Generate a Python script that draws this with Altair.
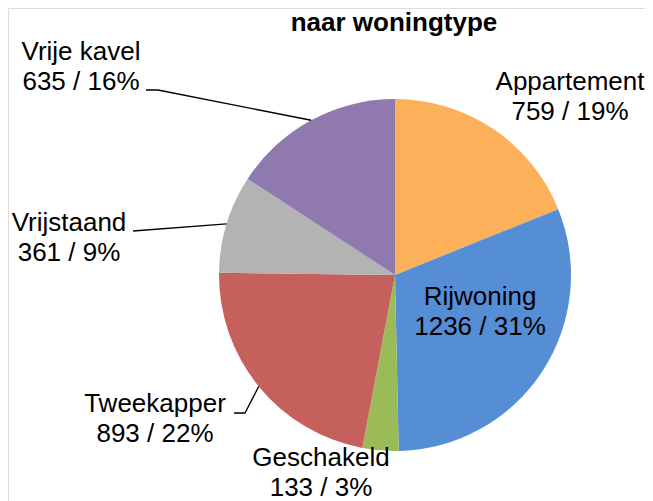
import math
import altair as alt
import pandas as pd

# ---- data ----
categories = ["Appartement", "Rijwoning", "Geschakeld", "Tweekapper", "Vrijstaand", "Vrije kavel"]
counts = [759, 1236, 133, 893, 361, 635]
colors = ["#FDB05A", "#558ED5", "#9BBB59", "#C5605C", "#B3B3B3", "#8F79AF"]
title_text = "naar woningtype"

# ---- layout (page pixel coordinates) ----
W, H = 637, 493
OX, OY = 8, 8
CX, CY, R = 395, 275, 176
# (x centre, y of first line)
label_anchor = {
    "Appartement": (570, 82),
    "Rijwoning": (480, 297),
    "Geschakeld": (321, 458),
    "Tweekapper": (155, 404),
    "Vrijstaand": (69, 223),
    "Vrije kavel": (81, 52),
}
leader_start = {
    "Vrije kavel": [(146, 90), (158, 90)],
    "Vrijstaand": [(133, 231)],
    "Tweekapper": [(234, 413), (245, 413)],
}
FONT = "Liberation Sans"

total = sum(counts)
pcts = [round(100 * c / total) for c in counts]

df = pd.DataFrame({
    "cat": categories,
    "value": counts,
    "idx": list(range(len(categories))),
})

lab_rows = []
for c, v, p in zip(categories, counts, pcts):
    x, y = label_anchor[c]
    lab_rows.append({"cat": c, "txt": f"{c}\n{v} / {p}%", "x": x, "y": y})
labels = pd.DataFrame(lab_rows)

cum = 0
mid = {}
for c, v in zip(categories, counts):
    mid[c] = (cum + v / 2) / total * 2 * math.pi
    cum += v
line_rows = []
for c, pts in leader_start.items():
    a = mid[c]
    edge = (CX + R * math.sin(a), CY - R * math.cos(a))
    for k, (x, y) in enumerate(pts + [edge]):
        line_rows.append({"cat": c, "o": k, "x": x, "y": y})
lines = pd.DataFrame(line_rows)

xs = alt.Scale(domain=[OX, OX + W], range=[0, W])
ys = alt.Scale(domain=[OY, OY + H], range=[0, H])

pie = alt.Chart(df).mark_arc(outerRadius=R).encode(
    theta=alt.Theta("value:Q", stack=True),
    order=alt.Order("idx:Q"),
    color=alt.Color("cat:N", scale=alt.Scale(domain=categories, range=colors), legend=None),
    x=alt.value(CX - OX),
    y=alt.value(CY - OY),
)

leaders = alt.Chart(lines).mark_line(color="#000000", strokeWidth=1.3).encode(
    x=alt.X("x:Q", scale=xs, axis=None),
    y=alt.Y("y:Q", scale=ys, axis=None),
    detail="cat:N",
    order="o:Q",
)

text = alt.Chart(labels).mark_text(
    font=FONT, fontSize=26, lineBreak="\n", lineHeight=29.5,
    align="center", baseline="middle", color="#000000",
).encode(
    x=alt.X("x:Q", scale=xs, axis=None),
    y=alt.Y("y:Q", scale=ys, axis=None),
    text="txt:N",
)

title = alt.Chart(pd.DataFrame({"t": [title_text]})).mark_text(
    font=FONT, fontSize=26, fontWeight="bold", align="center", baseline="middle", color="#000000",
).encode(
    x=alt.value(394 - OX),
    y=alt.value(23 - OY),
    text="t:N",
)

chart = alt.layer(pie, leaders, text, title).properties(
    width=W, height=H,
    autosize=alt.AutoSizeParams(type="none"),
    padding=0,
).configure_view(stroke=None).configure(background="#ffffff")

chart.save("out.html", embed_options={"renderer": "svg", "actions": False})
